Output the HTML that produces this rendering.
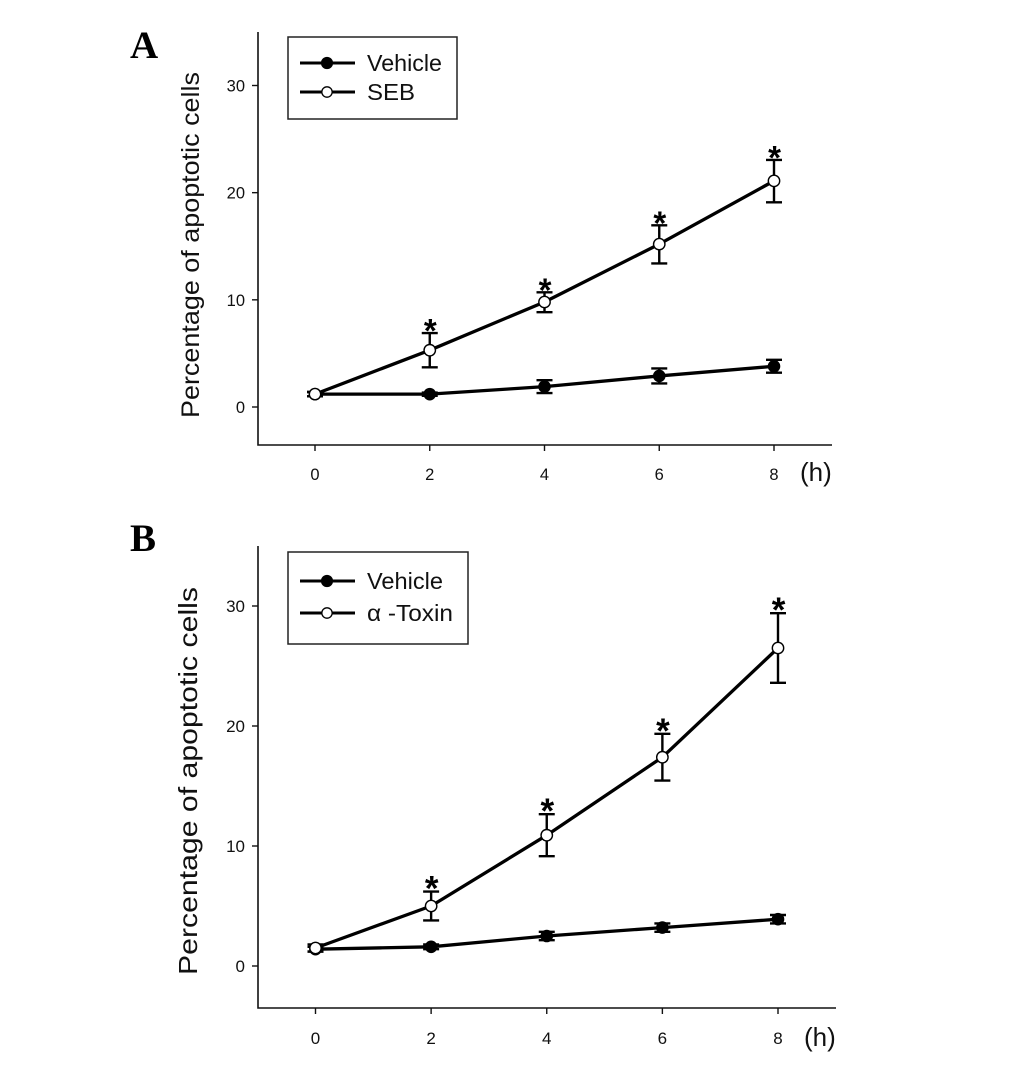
<!DOCTYPE html>
<html>
<head>
<meta charset="utf-8">
<style>
html,body{margin:0;padding:0;background:#fff;}
svg{display:block;font-family:"Liberation Sans",Arial,sans-serif;filter:blur(0.35px);}
</style>
</head>
<body>
<svg id="figure" xmlns="http://www.w3.org/2000/svg" width="1033" height="1081" viewBox="0 0 1033 1081"></svg>
<script>
const categories = [0, 2, 4, 6, 8];
const yTickValues = [0, 10, 20, 30];

const vehicleA = [1.2, 1.2, 1.9, 2.9, 3.8];
const vehicleErrA = [0.2, 0.15, 0.6, 0.7, 0.6];
const sebA = [1.2, 5.3, 9.8, 15.2, 21.1];
const sebUpperA = [0.2, 1.6, 0.9, 1.75, 1.95];
const sebLowerA = [0.2, 1.6, 0.95, 1.8, 2.0];

const vehicleB = [1.4, 1.6, 2.5, 3.2, 3.9];
const vehicleErrB = [0.2, 0.2, 0.35, 0.35, 0.35];
const toxinB = [1.5, 5.0, 10.9, 17.4, 26.5];
const toxinUpperB = [0.3, 1.2, 1.75, 1.95, 2.9];
const toxinLowerB = [0.3, 1.2, 1.75, 1.95, 2.9];

const significantA = [false, true, true, true, true];
const significantB = [false, true, true, true, true];

const NS = 'http://www.w3.org/2000/svg';
const root = document.getElementById('figure');

function mk(parent, tag, attrs, text) {
  const el = document.createElementNS(NS, tag);
  for (const k in attrs) el.setAttribute(k, attrs[k]);
  if (text !== undefined) el.textContent = text;
  parent.appendChild(el);
  return el;
}

function drawSeries(g, cfg, xs, vals, up, lo, filled, stars) {
  const sx = cfg.sx, sy = cfg.sy;
  // error bars
  xs.forEach(function (c, i) {
    const x = sx(c), yU = sy(vals[i] + up[i]), yL = sy(vals[i] - lo[i]);
    const bar = mk(g, 'path', {
      d: 'M' + x + ' ' + yU + 'V' + yL + 'M' + (x - 8) + ' ' + yU + 'H' + (x + 8) + 'M' + (x - 8) + ' ' + yL + 'H' + (x + 8),
      stroke: '#000', 'stroke-width': 2.4, fill: 'none'
    });
    
    
  });
  // line
  const line = mk(g, 'polyline', {
    points: xs.map(function (c, i) { return sx(c) + ',' + sy(vals[i]); }).join(' '),
    fill: 'none', stroke: '#000', 'stroke-width': 3.3, 'stroke-linejoin': 'round'
  });
  
  
  // markers
  xs.forEach(function (c, i) {
    const pt = mk(g, 'circle', {
      cx: sx(c), cy: sy(vals[i]), r: filled ? 5.8 : 5.7,
      fill: filled ? '#000' : '#fff', stroke: '#000', 'stroke-width': filled ? 1 : 1.4
    });
    
    
    if (stars && stars[i]) {
      const st = mk(g, 'text', {
        x: sx(c) + 0.5, y: sy(vals[i] + up[i]) + 9, 'text-anchor': 'middle', 'font-size': cfg.starSize, 'font-weight': 'bold', fill: '#000'
      }, '*');
      
      
    }
  });
}

function drawPanel(cfg) {
  const g = mk(root, 'g', {});
  
  

  const letter = mk(g, 'text', {
    x: cfg.letterX, y: cfg.letterY, 'font-family': '"Liberation Serif",serif', 'font-weight': 'bold', 'font-size': 39
  }, cfg.letter);
  
  

  const axes = mk(g, 'path', {
    d: 'M' + cfg.axisX + ' ' + cfg.axisTop + 'V' + cfg.axisY + 'H' + cfg.axisRight,
    stroke: '#111', 'stroke-width': 1.6, fill: 'none'
  });
  
  

  yTickValues.forEach(function (v) {
    const y = cfg.sy(v);
    const t = mk(g, 'line', { x1: cfg.axisX - 6, x2: cfg.axisX, y1: y, y2: y, stroke: '#111', 'stroke-width': 1.4 });
    
    
    const l = mk(g, 'text', {
      x: cfg.axisX - 13, y: y + cfg.tickSize * 0.36, 'text-anchor': 'end', 'font-size': cfg.tickSize, fill: '#111'
    }, String(v));
    
    
  });

  categories.forEach(function (c) {
    const x = cfg.sx(c);
    const t = mk(g, 'line', { x1: x, x2: x, y1: cfg.axisY, y2: cfg.axisY + 6, stroke: '#111', 'stroke-width': 1.4 });
    
    
    const l = mk(g, 'text', {
      x: x, y: cfg.axisY + cfg.xLabelDy, 'text-anchor': 'middle', 'font-size': cfg.tickSize, fill: '#111'
    }, String(c));
    
    
  });

  const unit = mk(g, 'text', { x: cfg.unitX, y: cfg.unitY, 'font-size': 26, fill: '#111' }, '(h)');
  
  

  const title = mk(g, 'text', {
    transform: 'translate(' + cfg.titleX + ',' + cfg.titleBottom + ') rotate(-90)',
    'font-size': cfg.titleSize, fill: '#111',
    textLength: cfg.titleLen, lengthAdjust: 'spacingAndGlyphs'
  }, 'Percentage of apoptotic cells');
  
  

  const series = mk(g, 'g', {});
  
  
  drawSeries(series, cfg, categories, cfg.veh, cfg.vehErr, cfg.vehErr, true, null);
  drawSeries(series, cfg, categories, cfg.trt, cfg.trtUp, cfg.trtLo, false, cfg.stars);

  // legend
  const lg = mk(g, 'g', {});
  
  
  const box = mk(lg, 'rect', {
    x: 288, y: cfg.legTop, width: cfg.legW, height: cfg.legH, fill: '#fff', stroke: '#222', 'stroke-width': 1.5
  });
  
  
  [[cfg.legY1, true, 'Vehicle', cfg.legLen1], [cfg.legY2, false, cfg.legLabel, cfg.legLen2]].forEach(function (e) {
    const ln = mk(lg, 'line', { x1: 300, x2: 355, y1: e[0], y2: e[0], stroke: '#000', 'stroke-width': 3 });
    
    
    const mkr = mk(lg, 'circle', {
      cx: 327, cy: e[0], r: e[1] ? 5.6 : 5.2, fill: e[1] ? '#000' : '#fff', stroke: '#000', 'stroke-width': e[1] ? 1 : 1.3
    });
    
    
    const tx = mk(lg, 'text', {
      x: 367, y: e[0] + 8, 'font-size': 23, fill: '#111', textLength: e[3], lengthAdjust: 'spacingAndGlyphs'
    }, e[2]);
    
    
  });
}

function linear(d0, r0, d1, r1) {
  return function (v) { return r0 + (v - d0) * (r1 - r0) / (d1 - d0); };
}

drawPanel({
  name: 'panel-a', letter: 'A', letterX: 130, letterY: 58,
  axisX: 258, axisTop: 32, axisY: 445, axisRight: 832,
  sx: linear(0, 315, 8, 774), sy: linear(0, 407, 30, 85.5),
  tickSize: 16.5, xLabelDy: 35, unitX: 800, unitY: 481,
  titleX: 199, titleBottom: 418, titleSize: 25, titleLen: 346, starSize: 33,
  veh: vehicleA, vehErr: vehicleErrA, trt: sebA, trtUp: sebUpperA, trtLo: sebLowerA, stars: significantA,
  legTop: 37, legW: 169, legH: 82, legY1: 63, legY2: 92, legLabel: 'SEB', legLen1: 75, legLen2: 48
});

drawPanel({
  name: 'panel-b', letter: 'B', letterX: 130, letterY: 551,
  axisX: 258, axisTop: 546, axisY: 1008, axisRight: 836,
  sx: linear(0, 315.5, 8, 778), sy: linear(0, 966, 30, 606),
  tickSize: 17, xLabelDy: 36, unitX: 804, unitY: 1046,
  titleX: 197, titleBottom: 975, titleSize: 26, titleLen: 388, starSize: 35,
  veh: vehicleB, vehErr: vehicleErrB, trt: toxinB, trtUp: toxinUpperB, trtLo: toxinLowerB, stars: significantB,
  legTop: 552, legW: 180, legH: 92, legY1: 581, legY2: 613, legLabel: 'α -Toxin', legLen1: 76, legLen2: 86
});
</script>
</body>
</html>
